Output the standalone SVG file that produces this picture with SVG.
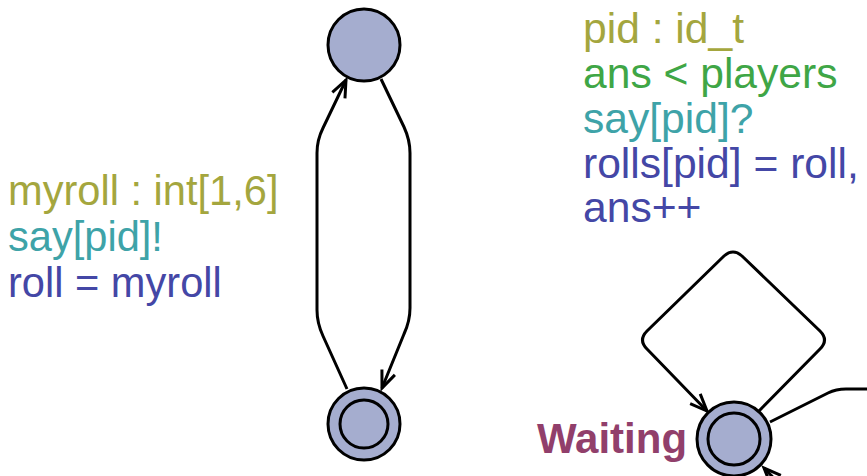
<svg xmlns="http://www.w3.org/2000/svg" width="867" height="476" viewBox="0 0 867 476">
<style>
.loc{fill:#a5adcf;stroke:#000;stroke-width:3}
.inner{fill:none;stroke:#000;stroke-width:3}
.edge{fill:none;stroke:#000;stroke-width:3;stroke-linejoin:round}
text{font-family:"Liberation Sans",Arial,Helvetica,sans-serif}
.l{font-size:41.6px}
.r{font-size:42.6px}
.sel{fill:#a4a63e}
.grd{fill:#3fa646}
.syn{fill:#3ea3a8}
.asg{fill:#4447a6}
.name{fill:#913f6b;font-weight:bold;font-size:42px}
</style>
<defs>
<marker id="arr" markerUnits="userSpaceOnUse" markerWidth="26" markerHeight="26" refX="0" refY="0" viewBox="-20 -13 26 26" orient="auto">
<path d="M-17,-7 L0,0 L-17,7" fill="none" stroke="#000" stroke-width="3" stroke-linejoin="miter"/>
</marker>
</defs>
<g id="connectors">
<path class="edge" d="M381,79 L404,127 Q410,140 410,153 L410,308 Q410,321 404,334 L382,388" marker-end="url(#arr)"/>
<path class="edge" d="M347,389 L323,336 Q317,323 317,310 L317,153 Q317,140 323,128 L346,80" marker-end="url(#arr)"/>
<path class="edge" d="M759,411 L820,349 Q829,340 820,331 L742,256 Q733,248 724,256 L647,331 Q638,340 647,349 L707,411" marker-end="url(#arr)"/>
<path class="edge" d="M770,422 L828,393 Q836,389 846,389 L867,389"/>
<path class="edge" d="M795,500 L764,468" marker-end="url(#arr)"/>
</g>
<g id="labels-left">
<text class="l sel" x="8" y="205">myroll : int[1,6]</text>
<text class="l syn" x="8" y="251">say[pid]!</text>
<text class="l asg" x="8" y="297">roll = myroll</text>
</g>
<g id="labels-right">
<text class="r sel" x="583" y="43">pid : id_t</text>
<text class="r grd" x="583" y="88">ans &lt; players</text>
<text class="r syn" x="583" y="133">say[pid]?</text>
<text class="r asg" x="583" y="178">rolls[pid] = roll,</text>
<text class="r asg" x="583" y="222">ans++</text>
</g>
<g id="node-top">
<circle class="loc" cx="364" cy="45" r="36"/>
</g>
<g id="node-bottom">
<circle class="loc" cx="364" cy="424" r="36"/>
<circle class="inner" cx="364" cy="424" r="24"/>
</g>
<g id="node-waiting">
<circle class="loc" cx="734" cy="439" r="37"/>
<circle class="inner" cx="734" cy="439" r="26"/>
<text class="name" x="537" y="453">Waiting</text>
</g>
</svg>
